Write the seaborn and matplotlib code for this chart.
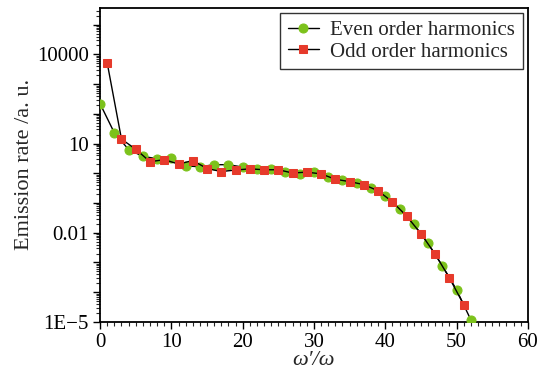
import numpy as np
import pandas as pd
import matplotlib
matplotlib.use("Agg")
import matplotlib.pyplot as plt
import matplotlib.ticker as mticker
import seaborn as sns

# harmonic orders and log10 of emission rate
even_orders = [0, 2, 4, 6, 8, 10, 12, 14, 16, 18, 20, 22, 24, 26, 28, 30,
               32, 34, 36, 38, 40, 42, 44, 46, 48, 50, 52]
even_log_rate = [2.34, 1.36, 0.80, 0.57, 0.49, 0.51, 0.25, 0.22, 0.29, 0.29,
                 0.21, 0.13, 0.13, 0.05, -0.01, 0.03, -0.11, -0.24, -0.32,
                 -0.49, -0.76, -1.19, -1.72, -2.36, -3.11, -3.92, -4.93]
odd_orders = [1, 3, 5, 7, 9, 11, 13, 15, 17, 19, 21, 23, 25, 27, 29, 31,
              33, 35, 37, 39, 41, 43, 45, 47, 49, 51]
odd_log_rate = [3.71, 1.15, 0.81, 0.39, 0.46, 0.31, 0.43, 0.16, 0.06, 0.11,
                0.15, 0.12, 0.12, 0.01, 0.04, -0.02, -0.20, -0.28, -0.38,
                -0.59, -0.96, -1.44, -2.03, -2.72, -3.52, -4.42]

ytick_vals = [1e-5, 1e-2, 1e1, 1e4]
ytick_labels = ["1E\u22125", "0.01", "10", "10000"]

GREEN = "#7cc21b"
RED = "#e63a2b"

even = pd.DataFrame({"order": even_orders, "rate": np.power(10.0, even_log_rate)})
odd = pd.DataFrame({"order": odd_orders, "rate": np.power(10.0, odd_log_rate)})

sns.set_style("ticks")
plt.rcParams["font.family"] = ["Liberation Serif", "DejaVu Serif"]

fig = plt.figure(figsize=(5.47, 3.73), dpi=100)
ax = fig.add_axes([0.183, 0.137, 0.782, 0.842])

sns.lineplot(data=even, x="order", y="rate", ax=ax, color="black", lw=1.0,
             marker="o", markersize=6.5, markerfacecolor=GREEN,
             markeredgecolor=GREEN, label="Even order harmonics", zorder=3)
sns.lineplot(data=odd, x="order", y="rate", ax=ax, color="black", lw=1.0,
             marker="s", markersize=5.8, markerfacecolor=RED,
             markeredgecolor=RED, label="Odd order harmonics", zorder=3)

ax.set_yscale("log")
ax.set_xlim(0, 60)
ax.set_ylim(1e-5, 3.7e5)

ax.xaxis.set_major_locator(mticker.MultipleLocator(10))
ax.xaxis.set_minor_locator(mticker.MultipleLocator(1))
ax.yaxis.set_major_locator(mticker.LogLocator(base=10, numticks=20))
ax.yaxis.set_minor_locator(mticker.LogLocator(base=10, subs=np.arange(2, 10), numticks=20))
labels = dict(zip(ytick_vals, ytick_labels))


def fmt(v, pos):
    for k, s in labels.items():
        if np.isclose(v, k, rtol=1e-6):
            return s
    return ""


ax.yaxis.set_major_formatter(mticker.FuncFormatter(fmt))
ax.yaxis.set_minor_formatter(mticker.NullFormatter())
ax.tick_params(which="major", length=5, width=1.0, labelsize=15, colors="black", pad=3)
ax.tick_params(which="minor", length=3, width=0.8)

for s in ax.spines.values():
    s.set_visible(True)
    s.set_linewidth(1.3)
    s.set_color("black")

ax.set_xlabel("\u03c9\u2032/\u03c9", fontsize=16, style="italic", labelpad=-1)
ax.set_ylabel("Emission rate /a. u.", fontsize=16, labelpad=2)

leg = ax.legend(loc="upper right", fontsize=15, frameon=True, fancybox=False,
                edgecolor="black", handlelength=1.5, handletextpad=0.55,
                borderpad=0.35, labelspacing=0.1, borderaxespad=0.25)
leg.get_frame().set_linewidth(1.0)

fig.savefig("out.png", dpi=100)
